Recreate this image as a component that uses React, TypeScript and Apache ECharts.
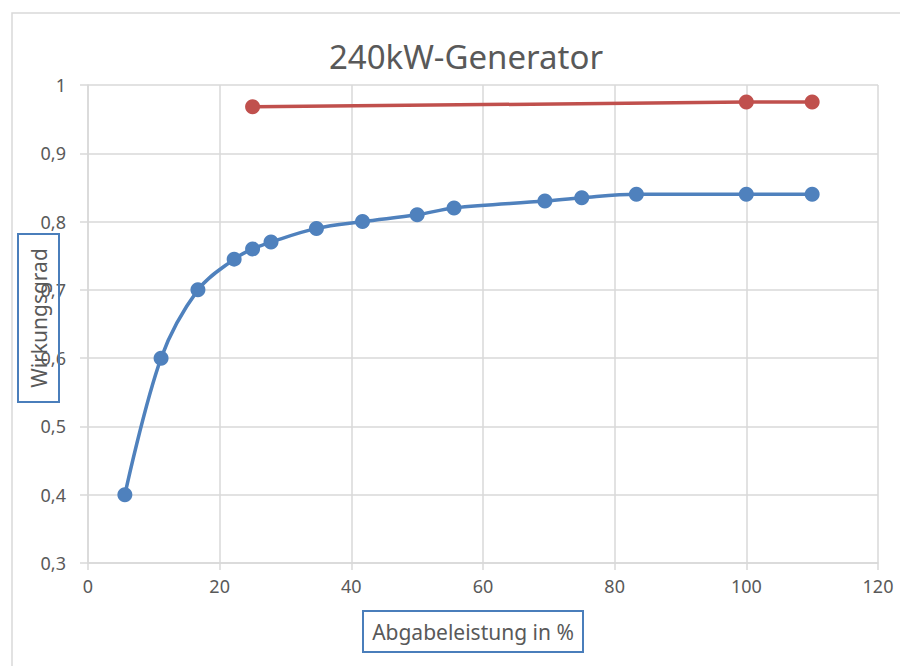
import React, { useEffect, useRef } from "react";
import * as echarts from "echarts";

const titleText = "240kW-Generator";
const xAxisName = "Abgabeleistung in %";
const yAxisName = "Wirkungsgrad";

const blueX = [5.6, 11.1, 16.7, 22.2, 25, 27.8, 34.7, 41.7, 50, 55.6, 69.4, 75, 83.3, 100, 110];
const blueY = [0.4, 0.6, 0.7, 0.745, 0.76, 0.77, 0.79, 0.8, 0.81, 0.82, 0.83, 0.835, 0.84, 0.84, 0.84];

const redX = [25, 100, 110];
const redY = [0.968, 0.975, 0.975];

const FONT = "Noto Sans";
const TEXT = "#595959";
const GRIDC = "#d9d9d9";

export default function App() {
  const ref = useRef<HTMLDivElement>(null);
  useEffect(() => {
    if (!ref.current) return;
    const chart = echarts.init(ref.current, undefined, { renderer: "svg" });
    const blue = blueX.map((x, i) => [x, blueY[i]]);
    const red = redX.map((x, i) => [x, redY[i]]);
    chart.setOption({
      animation: false,
      backgroundColor: "#ffffff",
      title: {
        text: titleText,
        left: 461,
        top: 35,
        textAlign: "center",
        textStyle: { fontFamily: FONT, fontSize: 33, fontWeight: "normal", color: TEXT },
      },
      grid: { left: 88, right: 22, top: 85, bottom: 103, containLabel: false },
      xAxis: {
        type: "value",
        min: 0,
        max: 120,
        interval: 20,
        axisLine: { show: true, lineStyle: { color: GRIDC, width: 1.5 } },
        axisTick: { show: true, length: 7, lineStyle: { color: GRIDC, width: 1.5 } },
        axisLabel: { fontFamily: FONT, fontSize: 18, color: TEXT, margin: 14 },
        splitLine: { show: true, lineStyle: { color: GRIDC, width: 1.5 } },
      },
      yAxis: {
        type: "value",
        min: 0.3,
        max: 1,
        interval: 0.1,
        axisLine: { show: true, lineStyle: { color: GRIDC, width: 1.5 } },
        axisTick: { show: true, length: 8, lineStyle: { color: GRIDC, width: 1.5 } },
        axisLabel: {
          fontFamily: FONT,
          fontSize: 18,
          color: TEXT,
          margin: 22,
          formatter: (v: number) => String(Math.round(v * 10) / 10).replace(".", ","),
        },
        splitLine: { show: true, lineStyle: { color: GRIDC, width: 1.5 } },
      },
      graphic: [
        {
          type: "rect",
          shape: { x: 12, y: 13, width: 920, height: 700 },
          style: { fill: "none", stroke: GRIDC, lineWidth: 1.5 },
          silent: true,
          z: -10,
        },
        {
          type: "rect",
          shape: { x: 18, y: 234, width: 41, height: 168 },
          style: { fill: "none", stroke: "#4a7ebb", lineWidth: 2 },
          z: 50,
          silent: true,
        },
        {
          type: "text",
          x: 38.5,
          y: 318,
          rotation: Math.PI / 2,
          style: {
            text: yAxisName,
            fontFamily: FONT,
            fontSize: 21,
            fill: TEXT,
            align: "center",
            verticalAlign: "middle",
          },
          z: 51,
          silent: true,
        },
        {
          type: "rect",
          shape: { x: 363, y: 611, width: 220, height: 41 },
          style: { fill: "#ffffff", stroke: "#4a7ebb", lineWidth: 2 },
          z: 50,
          silent: true,
        },
        {
          type: "text",
          x: 473,
          y: 632,
          style: {
            text: xAxisName,
            fontFamily: FONT,
            fontSize: 21,
            fill: TEXT,
            align: "center",
            verticalAlign: "middle",
          },
          z: 51,
          silent: true,
        },
      ],
      series: [
        {
          name: "Generator",
          type: "line",
          data: blue,
          smooth: 0.35,
          symbol: "circle",
          symbolSize: 15,
          itemStyle: { color: "#4f81bd" },
          lineStyle: { color: "#4f81bd", width: 3.5 },
          z: 3,
        },
        {
          name: "Referenz",
          type: "line",
          data: red,
          smooth: false,
          symbol: "circle",
          symbolSize: 15,
          itemStyle: { color: "#c0504d" },
          lineStyle: { color: "#c0504d", width: 3.5 },
          z: 3,
        },
      ],
    });
    return () => chart.dispose();
  }, []);
  return (
    <div
      ref={ref}
      style={{ position: "fixed", left: 0, top: 0, width: 900, height: 666 }}
    />
  );
}
